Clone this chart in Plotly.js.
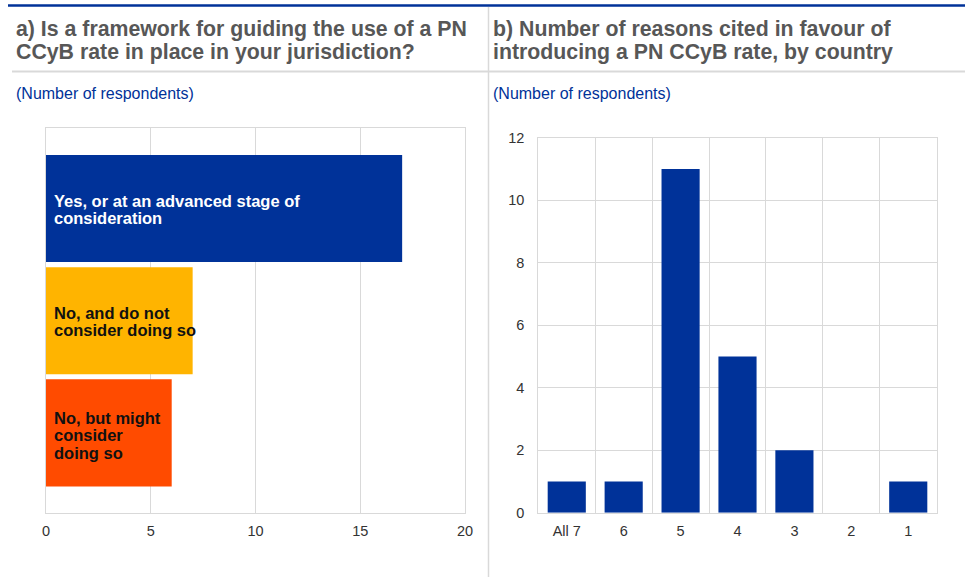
<!DOCTYPE html>
<html>
<head>
<meta charset="utf-8">
<script src="https://cdn.plot.ly/plotly-3.0.1.min.js"></script>
<style>
  html, body { margin: 0; padding: 0; background: #ffffff; }
  #chart { width: 965px; height: 587px; }
</style>
</head>
<body>
<div id="chart"></div>
<script>
// ---------- Data ----------
const titleALines = ['a) Is a framework for guiding the use of a PN', 'CCyB rate in place in your jurisdiction?'];
const titleBLines = ['b) Number of reasons cited in favour of', 'introducing a PN CCyB rate, by country'];
const unitLabel = '(Number of respondents)';

const categoriesA = [
  'Yes, or at an advanced stage of<br>consideration',
  'No, and do not<br>consider doing so',
  'No, but might<br>consider<br>doing so'
];
const valuesA = [17, 7, 6];
const tickValsA = [0, 5, 10, 15, 20];

const categoriesB = ['All 7', '6', '5', '4', '3', '2', '1'];
const valuesB = [1, 1, 11, 5, 2, 0, 1];
const tickValsB = [0, 2, 4, 6, 8, 10, 12];

// ---------- Styles ----------
const W = 965, H = 587;
const px = v => v / W;
const py = v => 1 - v / H;
const FONT = 'Liberation Sans, Arial, sans-serif';
const BLUE = '#003299';
const colorsA = ['#003299', '#FFB400', '#FF4B00'];
const textColorsA = ['#ffffff', '#111111', '#111111'];
const GRID = '#d9d9d9';
const TICK = '#333333';
const BAR_LINE_GAP = 17.5;
const TITLE_LINE_GAP = 22.6;

const traceA = {
  type: 'bar',
  orientation: 'h',
  x: valuesA,
  y: categoriesA,
  marker: { color: colorsA, line: { width: 0 } },
  width: 0.955,
  xaxis: 'x', yaxis: 'y',
  hoverinfo: 'none'
};

const traceB = {
  type: 'bar',
  x: categoriesB,
  y: valuesB,
  marker: { color: BLUE, line: { width: 0 } },
  width: 0.67,
  xaxis: 'x2', yaxis: 'y2',
  hoverinfo: 'none'
};

// bar labels: one annotation per line for tight line spacing
const barLabels = [];
categoriesA.forEach((c, i) => {
  const lines = c.split('<br>');
  const n = lines.length;
  lines.forEach((ln, j) => {
    barLabels.push({
      xref: 'x', yref: 'y',
      x: 0, y: c,
      xanchor: 'left', yanchor: 'middle',
      xshift: 6,
      yshift: -((j - (n - 1) / 2) * BAR_LINE_GAP) - (n > 2 ? 2.5 : 1),
      text: '<b>' + ln + '</b>',
      showarrow: false,
      align: 'left',
      font: { family: FONT, size: 16.5, color: textColorsA[i] }
    });
  });
});

const headerAnns = (x, lines) => lines.map((ln, j) => ({
  xref: 'paper', yref: 'paper',
  x: px(x), y: py(29.2 + j * TITLE_LINE_GAP),
  xanchor: 'left', yanchor: 'middle',
  text: '<b>' + ln + '</b>',
  showarrow: false, align: 'left',
  font: { family: FONT, size: 21.3, color: '#575757' }
}));
const unitAnn = (x) => ({
  xref: 'paper', yref: 'paper',
  x: px(x), y: py(93.5),
  xanchor: 'left', yanchor: 'middle',
  text: unitLabel,
  showarrow: false, align: 'left',
  font: { family: FONT, size: 16, color: BLUE }
});

const layout = {
  width: W, height: H,
  margin: { l: 0, r: 0, t: 0, b: 0 },
  paper_bgcolor: '#ffffff',
  plot_bgcolor: '#ffffff',
  showlegend: false,
  font: { family: FONT, color: TICK },
  xaxis: {
    domain: [px(46), px(465)],
    anchor: 'y',
    range: [0, 20],
    tickvals: tickValsA,
    showgrid: true, gridcolor: GRID, gridwidth: 1,
    zeroline: false,
    showline: true, linecolor: GRID, linewidth: 1, mirror: true,
    ticks: '',
    tickfont: { family: FONT, size: 14.5, color: TICK },
    ticklabelstandoff: 5,
    fixedrange: true
  },
  yaxis: {
    domain: [py(513), py(128)],
    anchor: 'x',
    type: 'category',
    range: [2.713, -0.717],
    showticklabels: false,
    showgrid: false,
    zeroline: false,
    showline: true, linecolor: GRID, linewidth: 1, mirror: true,
    ticks: '',
    fixedrange: true
  },
  xaxis2: {
    domain: [px(538.3), px(936.7)],
    anchor: 'y2',
    type: 'category',
    range: [-0.5, 6.5],
    tickson: 'boundaries',
    showgrid: true, gridcolor: GRID, gridwidth: 1,
    zeroline: false,
    showline: true, linecolor: GRID, linewidth: 1, mirror: true,
    ticks: '',
    tickfont: { family: FONT, size: 14.5, color: TICK },
    ticklabelstandoff: 5,
    fixedrange: true
  },
  yaxis2: {
    domain: [py(512.7), py(137.7)],
    anchor: 'x2',
    range: [0, 12],
    tickvals: tickValsB,
    showgrid: true, gridcolor: GRID, gridwidth: 1,
    zeroline: false,
    showline: true, linecolor: GRID, linewidth: 1, mirror: true,
    ticks: '',
    tickfont: { family: FONT, size: 14.5, color: TICK },
    ticklabelstandoff: 10,
    fixedrange: true
  },
  shapes: [
    { type: 'line', xref: 'paper', yref: 'paper', x0: px(8), x1: 1, y0: py(5.5), y1: py(5.5),
      line: { color: BLUE, width: 2.5 } },
    { type: 'line', xref: 'paper', yref: 'paper', x0: px(12), x1: 1, y0: py(71.5), y1: py(71.5),
      line: { color: GRID, width: 2 } },
    { type: 'line', xref: 'paper', yref: 'paper', x0: px(488.5), x1: px(488.5), y0: py(7), y1: py(577),
      line: { color: GRID, width: 1.5 } }
  ],
  annotations: [
    ...headerAnns(14, titleALines),
    ...headerAnns(491, titleBLines),
    unitAnn(14),
    unitAnn(491),
    ...barLabels
  ]
};

Plotly.newPlot('chart', [traceA, traceB], layout, { staticPlot: true, displayModeBar: false });
</script>
</body>
</html>
